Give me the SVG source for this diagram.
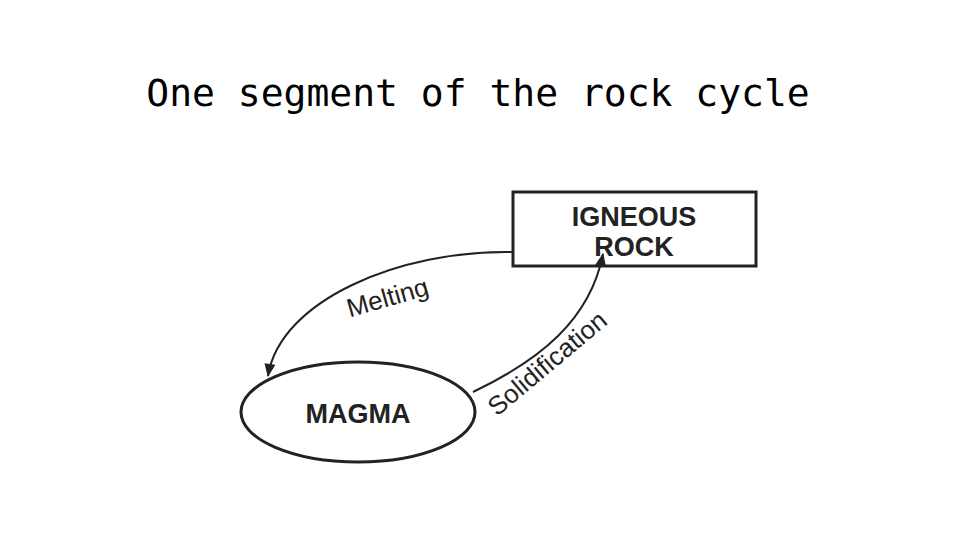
<svg xmlns="http://www.w3.org/2000/svg" width="960" height="540" viewBox="0 0 960 540">
<style>
.t{font-family:"Comic Sans MS","DejaVu Sans Mono",monospace;font-size:38px;fill:#000}
.n{font-family:"Liberation Sans",Arial,sans-serif;font-weight:bold;font-size:27px;fill:#222;text-anchor:middle}
.l{font-family:"Liberation Sans",Arial,sans-serif;font-size:26px;fill:#222;text-anchor:middle}
.c{fill:none;stroke:#222;stroke-width:2}
</style>
<defs><marker id="a" viewBox="0 0 12 10" refX="11" refY="5" markerWidth="14" markerHeight="11" markerUnits="userSpaceOnUse" orient="auto"><path d="M0,0L12,5L0,10z" fill="#222"/></marker></defs>
<rect width="960" height="540" fill="#fff"/>
<text class="t" x="478" y="106" text-anchor="middle">One segment of the rock cycle</text>
<g id="igneous"><rect x="513" y="192" width="243" height="74" fill="#fff" stroke="#222" stroke-width="3"/><text class="n" x="634" y="226">IGNEOUS</text><text class="n" x="634" y="256">ROCK</text></g>
<g id="magma"><ellipse cx="358" cy="412" rx="117" ry="50" fill="#fff" stroke="#222" stroke-width="3"/><text class="n" x="358" y="423">MAGMA</text></g>
<g id="connectors">
<path class="c" d="M513,252 C400,250 280,300 268,376" marker-end="url(#a)"/>
<path class="c" d="M473,392 C540,360 590,320 603,254" marker-end="url(#a)"/>
<text class="l" x="390" y="306" transform="rotate(-16 390 306)">Melting</text>
<text class="l" x="553" y="370" transform="rotate(-40 553 370)">Solidification</text>
</g>
</svg>
